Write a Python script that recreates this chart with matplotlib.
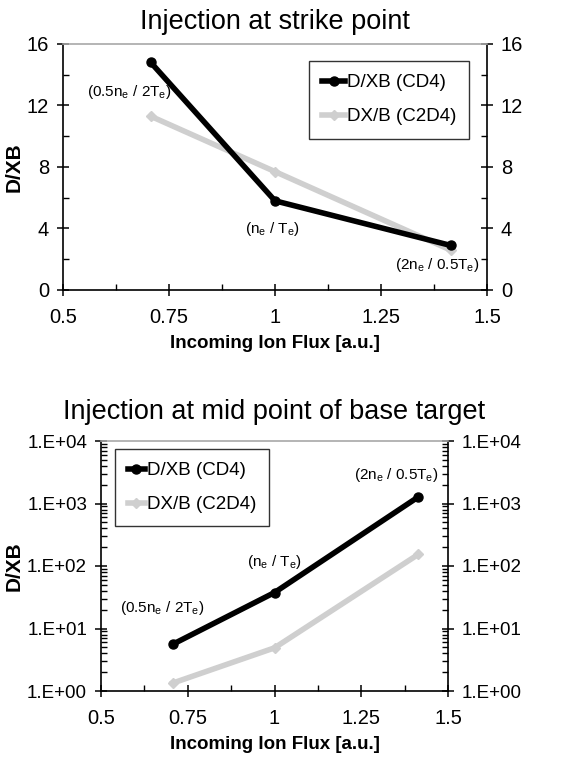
import matplotlib
matplotlib.use("Agg")
import matplotlib.pyplot as plt
import numpy as np
from matplotlib.ticker import MultipleLocator, FixedLocator, LogLocator, NullFormatter

plt.rcParams['font.family'] = ['Liberation Sans', 'DejaVu Sans']
plt.rcParams['mathtext.fontset'] = 'custom'
plt.rcParams['mathtext.rm'] = 'Liberation Sans'

flux = [0.707, 1.0, 1.414]

# strike point injection
strike_cd4 = [14.8, 5.8, 2.9]
strike_c2d4 = [11.3, 7.7, 2.6]

# mid point of base target injection
mid_cd4 = [5.6, 37.6, 1270]
mid_c2d4 = [1.34, 4.9, 153]

labels = [r'(0.5n$_\mathregular{e}$ / 2T$_\mathregular{e}$)',
          r'(n$_\mathregular{e}$ / T$_\mathregular{e}$)',
          r'(2n$_\mathregular{e}$ / 0.5T$_\mathregular{e}$)']
strike_lab_pos = [(0.656, 12.9), (0.995, 3.97), (1.382, 1.63)]
mid_lab_pos = [(0.677, 21), (0.999, 117), (1.352, 2860)]

gray = '#cfcfcf'
W, H = 565, 759

fig = plt.figure(figsize=(W / 100, H / 100), dpi=100)


def style(ax, left_px):
    ax.spines['top'].set_color('#a8a8a8')
    ax.spines['top'].set_linewidth(1.2)
    for s in ['left', 'right', 'bottom']:
        ax.spines[s].set_linewidth(1.2)
    ax.tick_params(which='major', direction='inout', length=8, width=1.1,
                   labelsize=14.5, right=True, labelright=True, top=False)
    ax.tick_params(axis='x', which='major', pad=9)
    ax.tick_params(axis='y', which='major', pad=6)
    ax.tick_params(which='minor', direction='in', length=4, width=1.0,
                   right=True, top=False)
    ax.set_xlim(0.5, 1.5)
    ax.xaxis.set_minor_locator(MultipleLocator(0.125))
    ax.set_xticks([0.5, 0.75, 1, 1.25, 1.5])
    ax.set_xticklabels(['0.5', '0.75', '1', '1.25', '1.5'])
    ax.set_xlabel('Incoming Ion Flux [a.u.]', fontsize=13.5, fontweight='bold', labelpad=6)
    ax.set_ylabel('D/XB', fontsize=15, fontweight='bold')
    # y label sits near the left edge of the figure in both panels
    w = ax.get_position().width * W
    ax.yaxis.set_label_coords((24 - left_px) / w, 0.5)


def series(ax, a, b):
    ax.plot(flux, a, color='black', lw=4, marker='o', ms=6.5, label='D/XB (CD4)', zorder=3)
    ax.plot(flux, b, color=gray, lw=4, marker='D', ms=5, label='DX/B (C2D4)', zorder=2)


def legend(ax, loc, anchor, hl):
    leg = ax.legend(loc=loc, bbox_to_anchor=anchor, fontsize=13.5, borderaxespad=0,
                    frameon=True, fancybox=False, edgecolor='black', handlelength=hl,
                    handletextpad=0.1, borderpad=0.7, labelspacing=0.9)
    leg.get_frame().set_linewidth(1.0)


# top panel
ax1 = fig.add_axes([63 / W, 1 - 290 / H, (487 - 63) / W, (290 - 44) / H])
series(ax1, strike_cd4, strike_c2d4)
style(ax1, 63)
ax1.set_ylim(0, 16)
ax1.yaxis.set_major_locator(MultipleLocator(4))
ax1.yaxis.set_minor_locator(MultipleLocator(2))
ax1.set_title('Injection at strike point', fontsize=19.5, pad=11)
for t, (x, y) in zip(labels, strike_lab_pos):
    ax1.text(x, y, t, fontsize=11, ha='center', va='center')
legend(ax1, 'upper right', (0.958, 0.93), 1.2)

# bottom panel
ax2 = fig.add_axes([101 / W, 1 - 691 / H, (448 - 101) / W, (691 - 441) / H])
series(ax2, mid_cd4, mid_c2d4)
ax2.set_yscale('log')
style(ax2, 101)
ax2.tick_params(axis='y', which='major', labelsize=13.5)
ax2.set_ylim(1, 1e4)
ax2.yaxis.set_major_locator(FixedLocator([1, 10, 100, 1000, 10000]))
ax2.yaxis.set_minor_locator(LogLocator(base=10, subs=np.arange(2, 10), numticks=20))
ax2.yaxis.set_minor_formatter(NullFormatter())
ax2.set_yticklabels(['1.E+00', '1.E+01', '1.E+02', '1.E+03', '1.E+04'])
ax2.set_title('Injection at mid point of base target', fontsize=19.5, pad=16)
for t, (x, y) in zip(labels, mid_lab_pos):
    ax2.text(x, y, t, fontsize=11, ha='center', va='center')
legend(ax2, 'upper left', (0.04, 0.968), 0.9)

fig.savefig('out.png', dpi=100)
